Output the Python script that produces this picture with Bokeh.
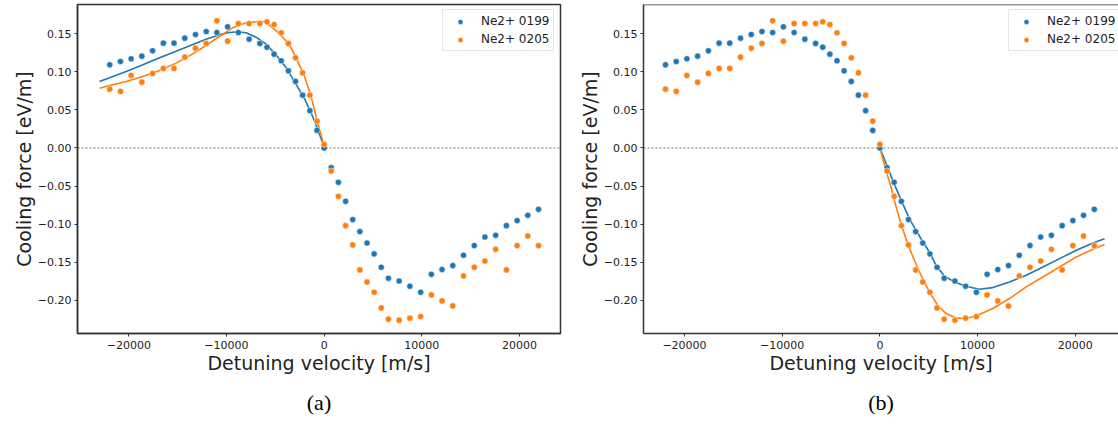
from bokeh.plotting import figure
from bokeh.layouts import row
from bokeh.models import (Range1d, FixedTicker, CustomJSTickFormatter, Span,
                          Legend, LegendItem, Title)
from bokeh.embed import file_html
from bokeh.resources import INLINE

# ---------------- data ----------------
velocity = [-21950, -20850, -19760, -18660, -17560, -16460, -15370, -14270,
            -13170, -12070, -10980, -9880, -8780, -7680, -6580, -5850,
            -5120, -4390, -3660, -2930, -2200, -1460, -730, 0,
            730, 1460, 2200, 2930, 3660, 4390, 5120, 5850, 6580, 7680,
            8780, 9880, 10980, 12070, 13170, 14270, 15370, 16460, 17560,
            18660, 19760, 20850, 21950]

force_0199 = [0.1093, 0.1136, 0.1172, 0.1206, 0.1277, 0.1377, 0.1377, 0.1442,
              0.1491, 0.1530, 0.1517, 0.1592, 0.1517, 0.1429, 0.1373, 0.1324,
              0.1232, 0.1146, 0.1014, 0.0874, 0.0694, 0.0490, 0.0231, 0.0000,
              -0.0259, -0.0451, -0.0701, -0.0941, -0.1098, -0.1248, -0.1392,
              -0.1567, -0.1711, -0.1747, -0.1816, -0.1895, -0.1659, -0.1597,
              -0.1545, -0.1409, -0.1282, -0.1169, -0.1147, -0.1020, -0.0954,
              -0.0885, -0.0806]

force_0205 = [0.0773, 0.0743, 0.0953, 0.0865, 0.0979, 0.1045, 0.1045, 0.1193,
              0.1311, 0.1373, 0.1671, 0.1403, 0.1635, 0.1635, 0.1635, 0.1657,
              0.1622, 0.1513, 0.1373, 0.1185, 0.0988, 0.0694, 0.0353, 0.0047,
              -0.0303, -0.0635, -0.1020, -0.1274, -0.1602, -0.1760, -0.1895,
              -0.2101, -0.2249, -0.2262, -0.2236, -0.2214, -0.1930, -0.2009,
              -0.2075, -0.1681, -0.1567, -0.1485, -0.1331, -0.1602, -0.1282,
              -0.1156, -0.1282]

# fit curves, panel (a): negative detuning side
fit_a_0199_v = [-23000, -21960, -20260, -18560, -16850, -15150, -13450, -12090,
                -10730, -9700, -8860, -8000, -6980, -5960, -4940, -3920, -2900,
                -2040, -1360, -680, 0]
fit_a_0199_f = [0.0874, 0.0922, 0.1005, 0.1093, 0.1185, 0.1272, 0.1360, 0.1430,
                0.1487, 0.1517, 0.1526, 0.1513, 0.1456, 0.1368, 0.1224, 0.1062,
                0.0843, 0.0655, 0.0472, 0.0253, 0.0012]
fit_a_0205_v = [-23000, -21960, -20260, -18560, -16850, -15150, -13450, -12090,
                -10730, -9360, -8000, -6640, -5960, -4940, -3580, -2830, -2040,
                -1360, -680, 0]
fit_a_0205_f = [0.0786, 0.0822, 0.0874, 0.0940, 0.1018, 0.1115, 0.1237, 0.1346,
                0.1465, 0.1578, 0.1644, 0.1661, 0.1657, 0.1543, 0.1368, 0.1171,
                0.0953, 0.0690, 0.0340, 0.0030]

# fit curves, panel (b): positive detuning side
fit_b_0199_v = [0, 790, 1310, 2160, 3020, 3700, 4380, 5070, 5750, 6610, 7630,
                8830, 10190, 11560, 13270, 14980, 16690, 18400, 20110, 21820, 23000]
fit_b_0199_f = [0.0, -0.0250, -0.0425, -0.0679, -0.0928, -0.1081, -0.1226,
                -0.1366, -0.1541, -0.1685, -0.1759, -0.1816, -0.1856, -0.1834,
                -0.1759, -0.1672, -0.1563, -0.1453, -0.1344, -0.1248, -0.1191]
fit_b_0205_v = [0, 620, 1140, 1480, 2160, 2840, 3530, 4210, 5070, 5920, 6780,
                7800, 8830, 9850, 11560, 13270, 14980, 16690, 18400, 20110,
                21820, 23000]
fit_b_0205_f = [0.0, -0.0294, -0.0513, -0.0688, -0.0994, -0.1256, -0.1475,
                -0.1672, -0.1891, -0.2066, -0.2175, -0.2232, -0.2241, -0.2206,
                -0.2109, -0.1978, -0.1825, -0.1694, -0.1563, -0.1431, -0.1331,
                -0.1269]

x_ticks = [-20000, -10000, 0, 10000, 20000]
y_ticks = [-0.20, -0.15, -0.10, -0.05, 0.0, 0.05, 0.10, 0.15]
labels = ["Ne2+ 0199", "Ne2+ 0205"]

BLUE = "#1f77b4"
ORANGE = "#ff7f0e"
FRAME = "#333333"
TEXT = "#222222"
Y0, Y1 = -0.2437, 0.1885


def make_panel(width, x0, x1, fits, caption, right_border, full_outline):
    p = figure(width=width, height=425, x_range=Range1d(x0, x1),
               y_range=Range1d(Y0, Y1), output_backend="svg",
               toolbar_location=None, min_border_left=77,
               min_border_right=right_border, min_border_top=4,
               min_border_bottom=92)
    p.xgrid.visible = False
    p.ygrid.visible = False
    p.background_fill_color = "white"
    p.border_fill_color = "white"
    if full_outline:
        p.outline_line_color = FRAME
        p.outline_line_width = 1.5
    else:
        p.outline_line_color = None
        p.add_layout(Span(location=Y1, dimension="width", line_color=FRAME,
                          line_width=1.5))

    for ax in (p.xaxis[0], p.yaxis[0]):
        ax.axis_line_color = FRAME
        ax.axis_line_width = 1.5
        ax.major_tick_line_color = FRAME
        ax.major_tick_in = 0
        ax.major_tick_out = 3
        ax.minor_tick_line_color = None
        ax.major_label_text_font = "DejaVu Sans"
        ax.major_label_text_font_size = "11px"
        ax.major_label_text_color = TEXT
        ax.axis_label_text_font = "DejaVu Sans"
        ax.axis_label_text_font_size = "19px"
        ax.axis_label_text_font_style = "normal"
        ax.axis_label_text_color = TEXT

    p.xaxis.ticker = FixedTicker(ticks=x_ticks)
    p.xaxis.formatter = CustomJSTickFormatter(
        code="return tick.toFixed(0).replace('-', '\u2212');")
    p.xaxis.axis_label = "Detuning velocity [m/s]"
    p.xaxis.major_label_standoff = 4
    p.xaxis.axis_label_standoff = 0

    p.yaxis.ticker = FixedTicker(ticks=y_ticks)
    p.yaxis.formatter = CustomJSTickFormatter(
        code="return tick.toFixed(2).replace('-', '\u2212');")
    p.yaxis.axis_label = "Cooling force [eV/m]"
    p.yaxis.major_label_standoff = 3
    p.yaxis.axis_label_standoff = 0

    p.add_layout(Span(location=0, dimension="width", line_color="#333333",
                      line_dash="2 2", line_width=0.7))

    (v1, f1), (v2, f2) = fits
    p.line(v1, f1, line_color=BLUE, line_width=1.6)
    p.line(v2, f2, line_color=ORANGE, line_width=1.6)

    s1 = p.scatter(velocity, force_0199, size=6.2, fill_color=BLUE,
                   line_color="white", line_width=0.5)
    s2 = p.scatter(velocity, force_0205, size=6.2, fill_color=ORANGE,
                   line_color="white", line_width=0.5)

    legend = Legend(items=[LegendItem(label=labels[0], renderers=[s1]),
                           LegendItem(label=labels[1], renderers=[s2])],
                    location=(365, 282))
    legend.label_text_font = "DejaVu Sans"
    legend.label_text_font_size = "12px"
    legend.label_text_color = TEXT
    legend.padding = 4
    legend.spacing = 4
    legend.glyph_width = 26
    legend.glyph_height = 13
    legend.label_height = 12
    legend.label_standoff = 8
    legend.margin = 0
    legend.border_line_color = "#cccccc"
    legend.border_line_width = 1
    legend.background_fill_alpha = 0.8
    p.add_layout(legend)

    p.add_layout(Title(text=caption, align="center", text_font="Liberation Serif",
                       text_font_size="22px", text_font_style="normal",
                       text_color="black", standoff=22), "below")
    return p


pa = make_panel(566, -25250, 24200,
                ((fit_a_0199_v, fit_a_0199_f), (fit_a_0205_v, fit_a_0205_f)),
                "(a)", 6, True)
pb = make_panel(552, -24200, 24430,
                ((fit_b_0199_v, fit_b_0199_f), (fit_b_0205_v, fit_b_0205_f)),
                "(b)", 0, False)

layout = row(pa, pb)
open("out.html", "w").write(file_html(layout, INLINE))
